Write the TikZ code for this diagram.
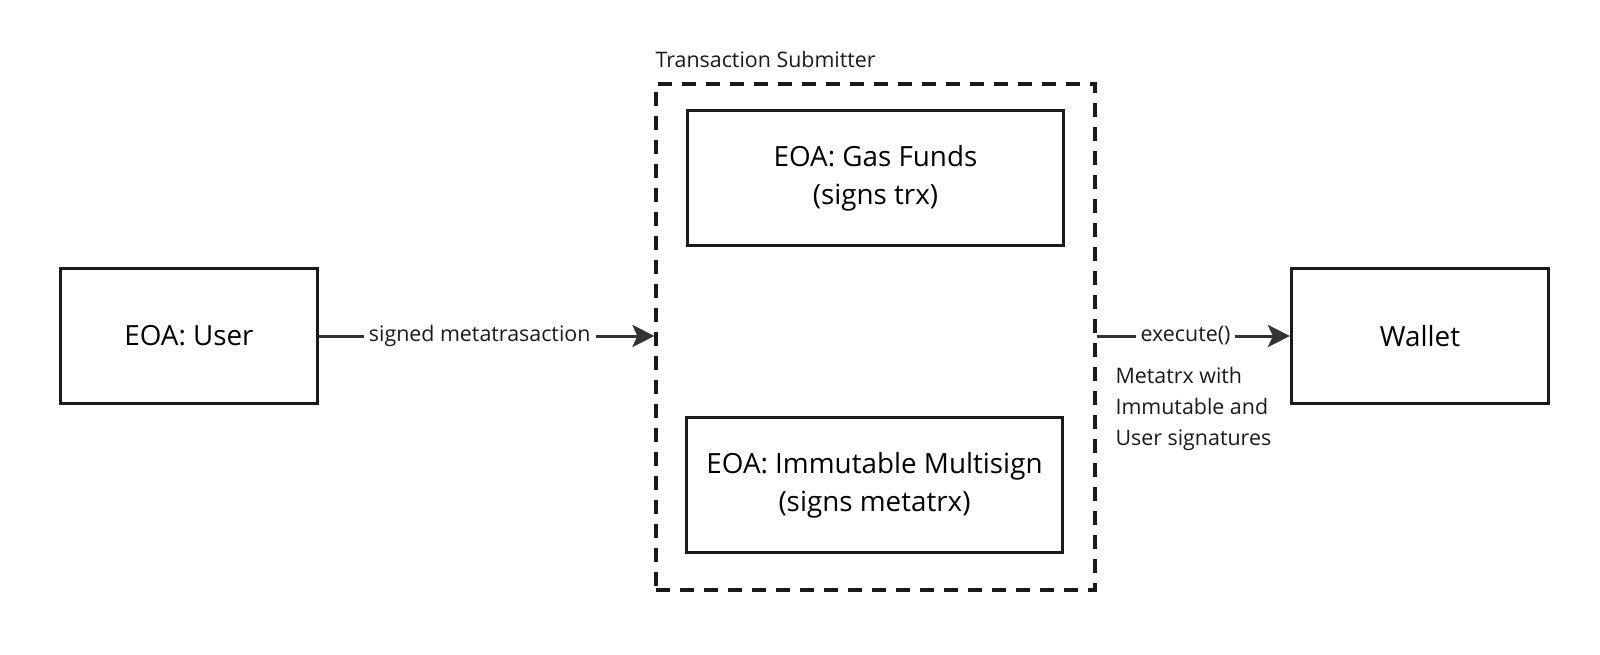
\documentclass[tikz,border=0pt]{standalone}
\usepackage{fontspec}
\setmainfont{Open Sans}
\usetikzlibrary{arrows.meta}
\definecolor{ink}{HTML}{1A1A1A}
\definecolor{arr}{HTML}{333333}
\begin{document}
\begin{tikzpicture}[x=1pt,y=-1pt,
  box/.style={draw=ink, line width=3.2pt, align=center, inner sep=0pt,
    font=\fontsize{27.8}{38}\selectfont},
  smallbox/.style={box, minimum width=257pt, minimum height=135pt},
  widebox/.style={box, minimum width=376pt, minimum height=135pt},
  group/.style={draw=ink, line width=3.2pt, dash pattern=on 14pt off 10pt, minimum width=439pt, minimum height=506pt, inner sep=0pt},
  lbl/.style={font=\fontsize{21.4}{31}\selectfont, text=ink},
  conn/.style={draw=arr, line width=3pt, -{Stealth[length=22pt,width=22pt,inset=5pt]}},
]
\useasboundingbox (0,0) rectangle (1600,654);
\node[smallbox] (user) at (189,336) {EOA: User};
\node[group] (sub) at (875.5,337) {};
\node[lbl, anchor=base west] (title) at (652,67) {Transaction Submitter};
\node[widebox] (gas) at (875.5,178) {EOA: Gas Funds\\(signs trx)};
\node[widebox] (multi) at (874.5,485) {EOA: Immutable Multisign\\(signs metatrx)};
\node[smallbox] (wallet) at (1420,336) {Wallet};
\draw[conn] (user.east) -- node[pos=0.479, fill=white, lbl, inner sep=5pt] {signed metatrasaction} (sub.west |- user.east);
\draw[conn] (sub.east |- wallet.west) -- node[pos=0.46, fill=white, lbl, inner sep=5pt] {execute()} (wallet.west);
\node[lbl, anchor=north west, align=left] (note) at (1112,364) {Metatrx with\\Immutable and\\User signatures};
\end{tikzpicture}
\end{document}
